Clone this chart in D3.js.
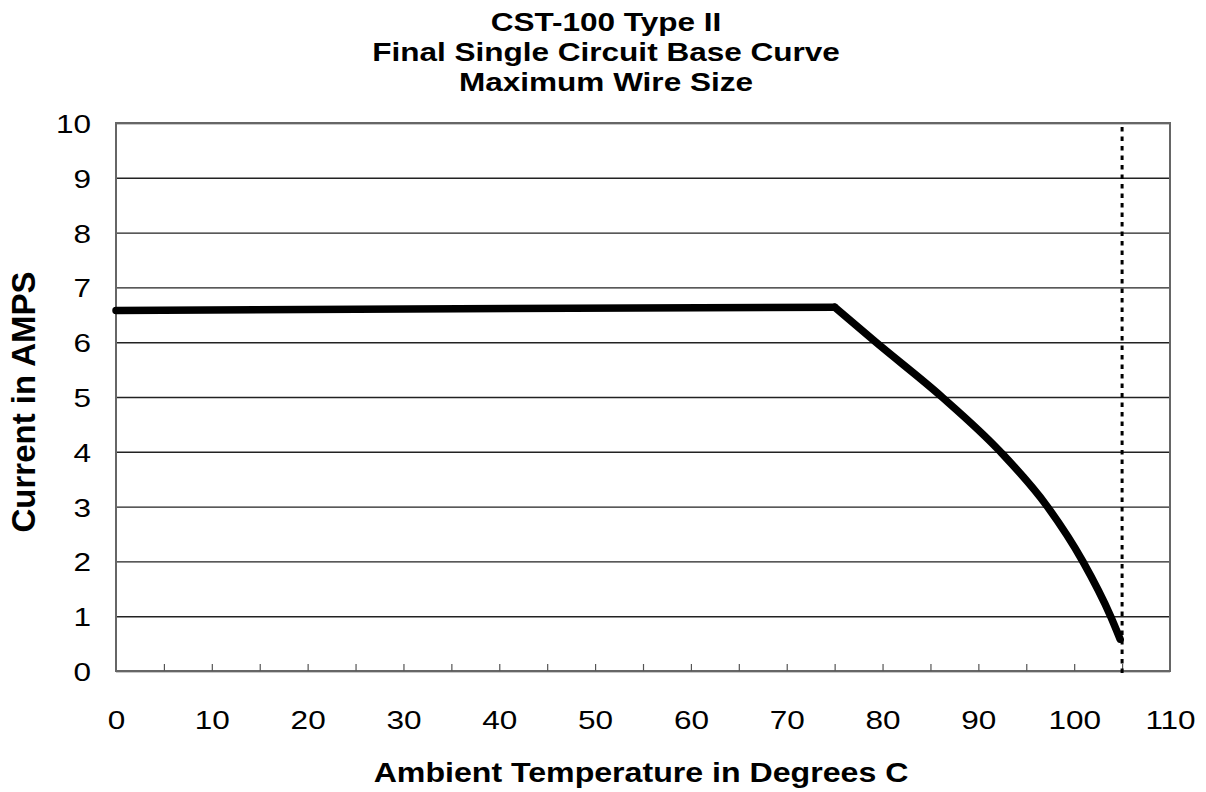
<!DOCTYPE html>
<html>
<head>
<meta charset="utf-8">
<script src="https://cdn.jsdelivr.net/npm/d3@7"></script>
<style>
  body { margin: 0; background: #fff; }
  text { font-family: "Liberation Sans", Arial, sans-serif; fill: #000; }
</style>
</head>
<body>
<div id="chart"></div>
<script>
// values
var titleLines = ["CST-100 Type II", "Final Single Circuit Base Curve", "Maximum Wire Size"];
var temps = [0, 75, 79.3, 86.2, 92.3, 97.2, 100.9, 103.8, 104.8];
var amps = [6.58, 6.64, 6, 5, 4, 3, 2, 1, 0.58];
var xTicks = [0, 10, 20, 30, 40, 50, 60, 70, 80, 90, 100, 110];
var xMinor = [5, 10, 15, 20, 25, 30, 35, 40, 45, 50, 55, 60, 65, 70, 75, 80, 85, 90, 95, 100, 105];
var yTicks = [0, 1, 2, 3, 4, 5, 6, 7, 8, 9, 10];
var maxTemp = 105;

(function () {
    var W = 1206, H = 792;
    var margin = {top: 123, right: 36, bottom: 121, left: 116};
    var width = W - margin.left - margin.right,
        height = H - margin.top - margin.bottom;
    var stretch = 1.19; // the scan is wider than tall

    var svg = d3.select("#chart").append("svg")
        .attr("width", W)
        .attr("height", H);

    var g = svg.append("g")
        .attr("transform", "translate(" + margin.left + "," + margin.top + ")");

    var x = d3.scaleLinear().domain([0, 110]).range([0, width]);
    var y = d3.scaleLinear().domain([0, 10]).range([height, 0]);

    // horizontal grid
    g.append("g")
        .attr("class", "grid")
        .call(d3.axisLeft(y).tickValues(yTicks).tickSize(-width).tickFormat(""))
        .call(function (a) {
            a.select(".domain").remove();
            a.selectAll("line").attr("stroke", "#222").attr("stroke-width", 1.4);
        });

    // plot frame
    g.append("rect")
        .attr("width", width)
        .attr("height", height)
        .attr("fill", "none")
        .attr("stroke", "#666")
        .attr("stroke-width", 2);

    // minor ticks along bottom, pointing in
    g.append("g")
        .attr("transform", "translate(0," + height + ")")
        .call(d3.axisBottom(x).tickValues(xMinor).tickSize(-7).tickFormat(""))
        .call(function (a) {
            a.select(".domain").remove();
            a.selectAll("line").attr("stroke", "#555").attr("stroke-width", 1.2);
        });

    // x tick labels
    var xa = g.append("g")
        .attr("transform", "translate(0," + height + ")")
        .call(d3.axisBottom(x).tickValues(xTicks).tickSize(0));
    xa.select(".domain").remove();
    xa.selectAll("text")
        .attr("y", 0).attr("dy", 0)
        .attr("font-size", 26.5)
        .attr("font-family", "Liberation Sans, Arial, sans-serif")
        .attr("transform", "translate(0,58) scale(" + stretch + ",1)");

    // y tick labels
    var ya = g.append("g")
        .call(d3.axisLeft(y).tickValues(yTicks).tickSize(0));
    ya.select(".domain").remove();
    ya.selectAll("text")
        .attr("x", 0).attr("dy", "0.36em")
        .attr("font-size", 26.5)
        .attr("font-family", "Liberation Sans, Arial, sans-serif")
        .attr("transform", "translate(-25,0) scale(" + stretch + ",1)");

    // dotted limit line
    g.append("line")
        .attr("x1", x(maxTemp)).attr("x2", x(maxTemp))
        .attr("y1", 4).attr("y2", height + 4)
        .attr("stroke", "#000")
        .attr("stroke-width", 3)
        .attr("stroke-dasharray", "4.5,5");

    // curve: flat part then the fall-off
    var pts = temps.map(function (t, i) { return [t, amps[i]]; });
    var line = d3.line()
        .x(function (d) { return x(d[0]); })
        .y(function (d) { return y(d[1]); });

    g.append("path")
        .datum(pts.slice(0, 2))
        .attr("d", line)
        .attr("fill", "none")
        .attr("stroke", "#000")
        .attr("stroke-width", 7.5)
        .attr("stroke-linecap", "round");

    g.append("path")
        .datum(pts.slice(1))
        .attr("d", line.curve(d3.curveMonotoneX))
        .attr("fill", "none")
        .attr("stroke", "#000")
        .attr("stroke-width", 7.5)
        .attr("stroke-linecap", "round")
        .attr("stroke-linejoin", "round");

    // titles
    var cx = 606;
    titleLines.forEach(function (t, i) {
        svg.append("text")
            .attr("text-anchor", "middle")
            .attr("font-size", 26.5)
            .attr("font-weight", "bold")
            .attr("transform", "translate(" + cx + "," + (31 + i * 30) + ") scale(" + stretch + ",1)")
            .text(t);
    });

    svg.append("text")
        .attr("text-anchor", "middle")
        .attr("font-size", 27)
        .attr("font-weight", "bold")
        .attr("transform", "translate(641,782) scale(" + stretch + ",1)")
        .text("Ambient Temperature in Degrees C");

    svg.append("text")
        .attr("text-anchor", "middle")
        .attr("font-size", 33)
        .attr("font-weight", "bold")
        .attr("transform", "translate(35,402) rotate(-90)")
        .text("Current in AMPS");
})();
</script>
</body>
</html>
